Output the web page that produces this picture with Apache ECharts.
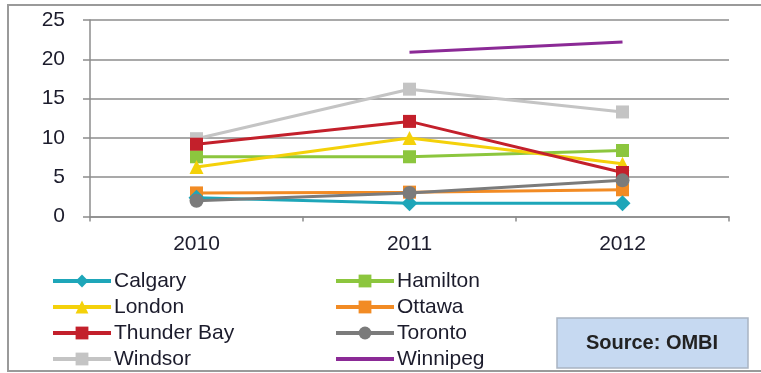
<!DOCTYPE html>
<html>
<head>
<meta charset="utf-8">
<script src="https://cdn.jsdelivr.net/npm/echarts@6/dist/echarts.min.js"></script>
<style>html,body{margin:0;padding:0;background:#fff;}#c{width:761px;height:373px;}</style>
</head>
<body>
<div id="c"></div>
<script>
const years = ['2010', '2011', '2012'];
const yTicks = [0, 5, 10, 15, 20, 25];
const calgary = [2.4, 1.7, 1.7];
const hamilton = [7.6, 7.6, 8.4];
const london = [6.3, 10.0, 6.7];
const ottawa = [3.0, 3.1, 3.4];
const thunderBay = [9.2, 12.1, 5.6];
const toronto = [2.0, 3.0, 4.6];
const windsor = [9.9, 16.2, 13.3];
const winnipeg = [null, 20.9, 22.2];
const sourceText = 'Source: OMBI';

const FONT = 'Liberation Sans';
function mk(name, data, color, symbol, size) {
  return {
    name: name, type: 'line', data: data,
    symbol: symbol, symbolSize: size, showSymbol: symbol !== 'none',
    lineStyle: { color: color, width: 3 },
    itemStyle: { color: color },
    emphasis: { disabled: true },
    animation: false
  };
}
const series = [
  mk('Calgary', calgary, '#1ea6b9', 'diamond', 16),
  mk('Hamilton', hamilton, '#8cc63e', 'rect', 13),
  mk('London', london, '#f4d10a', 'triangle', 14),
  mk('Ottawa', ottawa, '#f28b24', 'rect', 13),
  mk('Thunder Bay', thunderBay, '#c3202b', 'rect', 13),
  mk('Toronto', toronto, '#7b7b7b', 'circle', 14),
  mk('Windsor', windsor, '#c4c4c4', 'rect', 13),
  mk('Winnipeg', winnipeg, '#8b2a96', 'none', 0)
];
const ordered = [series[7], series[6], series[1], series[2], series[4], series[3], series[0], series[5]];

const legendCommon = {
  orient: 'vertical', itemWidth: 58, itemHeight: 16, itemGap: 4,
  lineStyle: { width: 4 },
  textStyle: { fontFamily: FONT, fontSize: 21, color: '#1c1c2c', lineHeight: 22, padding: [0, 0, 0, -2] },
  selectedMode: false, padding: 0
};

const chart = echarts.init(document.getElementById('c'), null, { renderer: 'canvas' });
chart.setOption({
  animation: false,
  grid: { left: 90, right: 32, top: 20, bottom: 156.5, containLabel: false },
  xAxis: {
    type: 'category', data: years, boundaryGap: true,
    axisLine: { show: true, lineStyle: { color: '#8c8c8c', width: 1.5 } },
    axisTick: { show: true, length: 5, lineStyle: { color: '#8c8c8c', width: 1.5 } },
    axisLabel: { fontFamily: FONT, fontSize: 21, color: '#1c1c2c', margin: 17 }
  },
  yAxis: {
    type: 'value', min: yTicks[0], max: yTicks[yTicks.length - 1], interval: 5,
    axisLine: { show: true, lineStyle: { color: '#8c8c8c', width: 1.5 } },
    axisTick: { show: true, length: 7, lineStyle: { color: '#8c8c8c', width: 1.5 } },
    axisLabel: { fontFamily: FONT, fontSize: 21, color: '#1c1c2c', margin: 25 },
    splitLine: { show: true, lineStyle: { color: '#8c8c8c', width: 1.5 } }
  },
  legend: [
    Object.assign({ left: 51, top: 270, data: ['Calgary', 'London', 'Thunder Bay', 'Windsor'] }, legendCommon),
    Object.assign({ left: 334, top: 270, data: ['Hamilton', 'Ottawa', 'Toronto', { name: 'Winnipeg', itemStyle: { opacity: 0 } }] }, legendCommon)
  ],
  graphic: [
    { type: 'rect', shape: { x: 8, y: 5, width: 800, height: 366 }, style: { fill: 'none', stroke: '#9a9a9a', lineWidth: 2 }, silent: true },
    { type: 'rect', shape: { x: 557, y: 318, width: 191, height: 50 }, style: { fill: '#c6d9f1', stroke: '#a9b4c2', lineWidth: 1.5 }, silent: true },
    { type: 'text', x: 652, y: 343, style: { text: sourceText, fontFamily: FONT, fontSize: 20, fontWeight: 'bold', fill: '#222', align: 'center', verticalAlign: 'middle' }, silent: true }
  ],
  series: ordered
});
</script>
</body>
</html>
